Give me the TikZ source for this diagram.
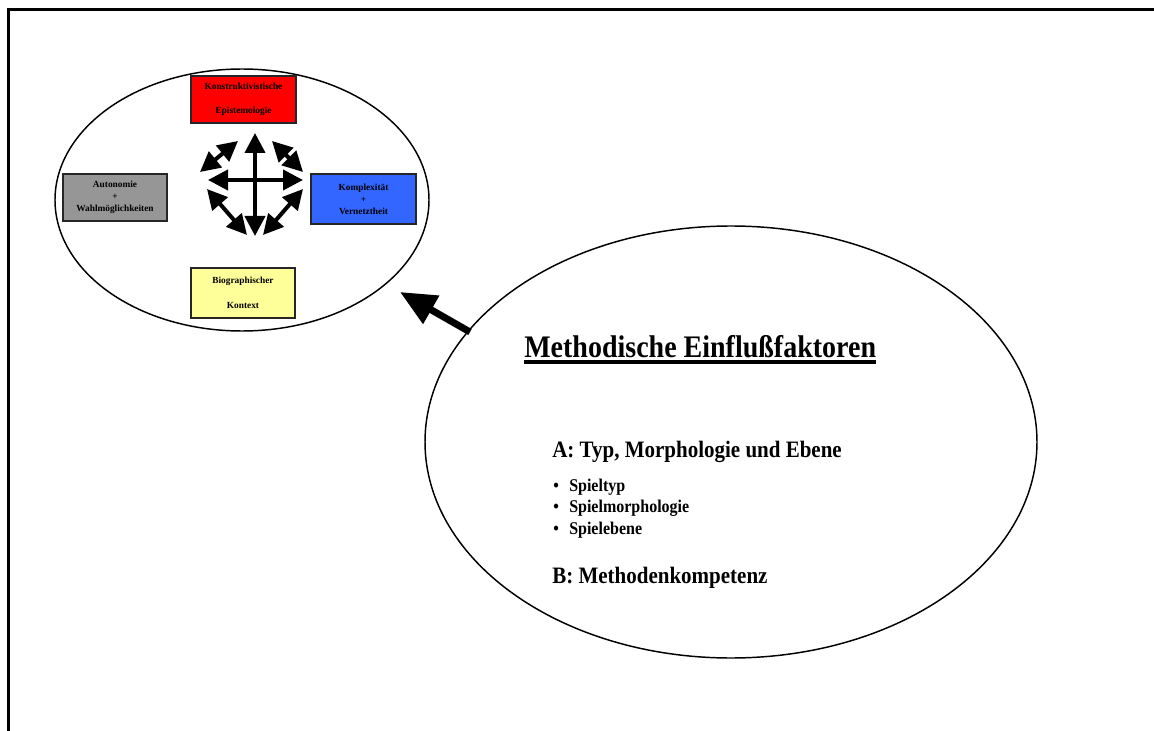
\documentclass[tikz,border=0pt]{standalone}
\usepackage{graphicx}
\usepackage{fontspec}
\setmainfont{Liberation Serif}
\usetikzlibrary{arrows.meta,shapes.geometric,calc}
% serif text set a little taller than wide
\newcommand\tallsetting[1]{\scalebox{1}[1.12]{#1}}
\begin{document}
\begin{tikzpicture}[x=0.75pt,y=-0.75pt,
  card/.style={draw=black!85, line width=1.1pt, inner sep=0pt, align=center,
    font=\fontsize{7}{9}\selectfont\bfseries},
  oval/.style={draw, ellipse, line width=1.1pt, inner sep=0pt},
  twoway/.style={line width=3pt,
    {Triangle[length=15pt,width=15pt]}-{Triangle[length=15pt,width=15pt]}},
  bigarrow/.style={line width=5.25pt, -{Triangle[length=27pt,width=23.25pt]}},
  heading/.style={anchor=base west, inner sep=0pt, font=\fontsize{15.75}{19}\selectfont\bfseries},
  listitem/.style={anchor=base west, inner sep=0pt, font=\fontsize{12}{14}\selectfont\bfseries}
]
\useasboundingbox (0,0) rectangle (1154,731);

% page frame: left and top edges only
\draw[line width=2.25pt] (8.5,731) -- (8.5,9.5) -- (1154,9.5);

% the two ovals
\node[oval, minimum width=280.5pt, minimum height=196.5pt] (core) at (242,200) {};
\node[oval, minimum width=459pt, minimum height=324pt] (method) at (731,442) {};

% the four factor cards
\node[card, fill=red, minimum width=78.75pt, minimum height=35.25pt] (epist) at (243.5,99.5)
  {Konstruktivistische\\[9pt]Epistemologie};
\node[card, fill={rgb,255:red,51;green,102;blue,255}, minimum width=78.75pt, minimum height=37.5pt] (complex) at (363.5,199)
  {Komplexität\\+\\Vernetztheit};
\node[card, fill={rgb,255:red,150;green,150;blue,150}, minimum width=78pt, minimum height=35.25pt] (auto) at (115,197.5)
  {Autonomie\\+\\Wahlmöglichkeiten};
\node[card, fill={rgb,255:red,255;green,255;blue,153}, minimum width=78pt, minimum height=37.5pt] (bio) at (243,293)
  {Biographischer\\[10pt]Kontext};

% arrow star between the cards
\coordinate (crossL) at (208,180);
\coordinate (crossR) at (303,180);
\coordinate (crossT) at (255,133);
\coordinate (crossB) at (255,236);
\coordinate (ulA) at (200,172);
\coordinate (ulB) at (238,141);
\coordinate (urA) at (272,141);
\coordinate (urB) at (303,172);
\coordinate (llA) at (207,189);
\coordinate (llB) at (247,235);
\coordinate (lrA) at (263,235);
\coordinate (lrB) at (303,189);
\draw[twoway] (crossL) -- (crossR);
\draw[twoway] (crossT) -- (crossB);
\draw[twoway] (ulA) -- (ulB);
\draw[twoway] (urA) -- (urB);
\draw[twoway] (llA) -- (llB);
\draw[twoway] (lrA) -- (lrB);

% arrow from the method oval towards the core oval
\coordinate (arrowTail) at (470,332);
\coordinate (arrowTip) at (400,292);
\draw[bigarrow] (arrowTail) -- (arrowTip);

% text of the method oval
\node[anchor=base west, inner sep=0pt, font=\fontsize{21}{25}\selectfont\bfseries] (title) at (524,357)
  {\tallsetting{Methodische Einflußfaktoren}};
\draw[line width=2.6pt] ($(title.base west)+(0,5)$) -- ($(title.base east)+(0,5)$);

\node[heading] (partA) at (552,457) {\tallsetting{A: Typ, Morphologie und Ebene}};
\node[listitem] (item1) at (553,491) {\tallsetting{\makebox[12pt][l]{\textbullet}Spieltyp}};
\node[listitem] (item2) at (553,512) {\tallsetting{\makebox[12pt][l]{\textbullet}Spielmorphologie}};
\node[listitem] (item3) at (553,534) {\tallsetting{\makebox[12pt][l]{\textbullet}Spielebene}};
\node[heading] (partB) at (552,583) {\tallsetting{B: Methodenkompetenz}};
\end{tikzpicture}
\end{document}
